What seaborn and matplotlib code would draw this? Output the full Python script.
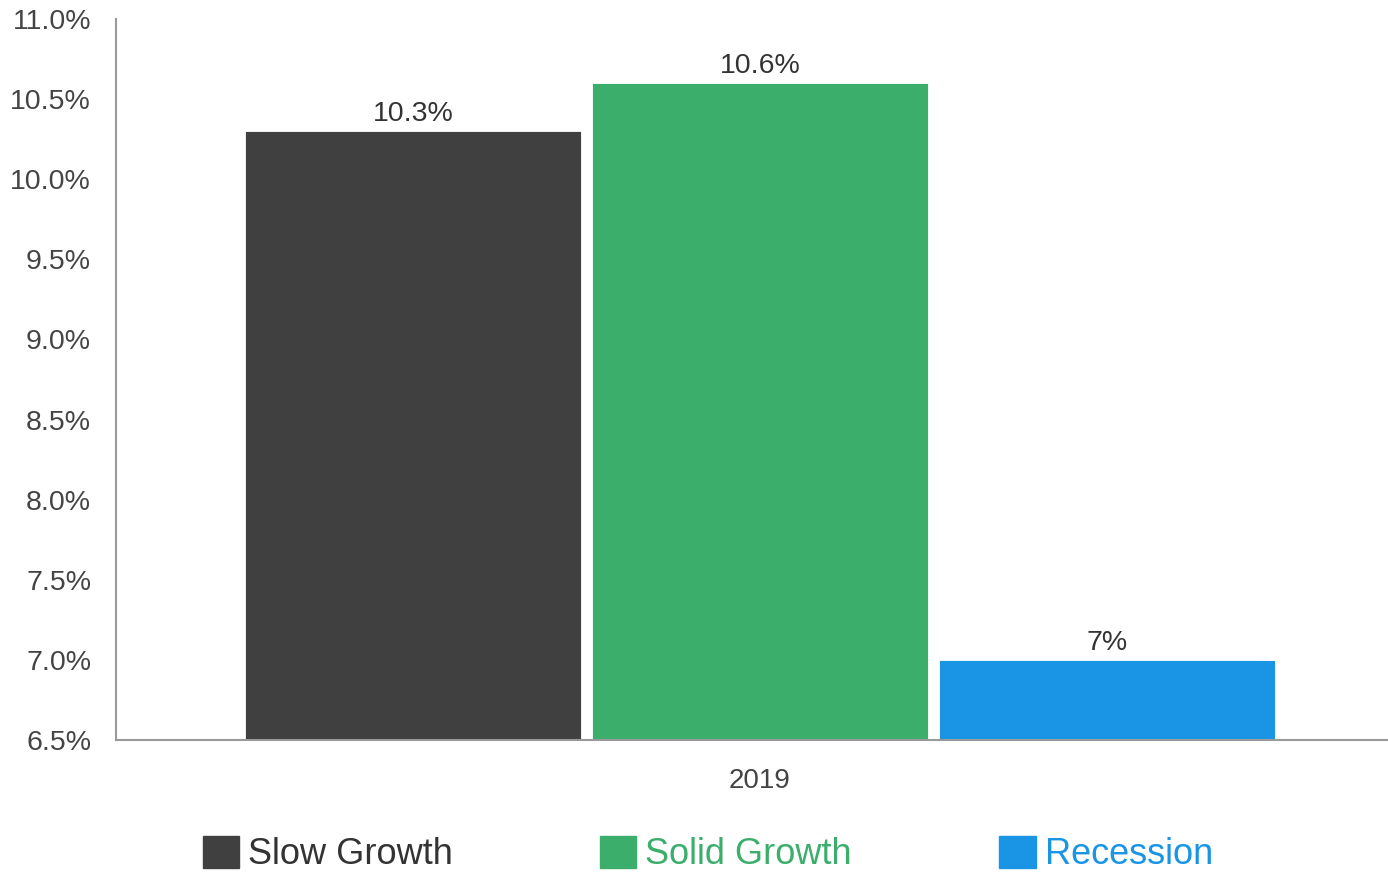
import matplotlib
matplotlib.use("Agg")
import matplotlib.pyplot as plt
import seaborn as sns
import pandas as pd
from matplotlib.ticker import FuncFormatter

years = ["2019"]
scenarios = ["Slow Growth", "Solid Growth", "Recession"]
returns = [10.3, 10.6, 7.0]
value_labels = ["10.3%", "10.6%", "7%"]
colors = ["#404040", "#3cae6b", "#1a95e6"]
legend_text_colors = ["#333333", "#3cae6b", "#1a95e6"]
y_ticks = [6.5, 7.0, 7.5, 8.0, 8.5, 9.0, 9.5, 10.0, 10.5, 11.0]

df = pd.DataFrame({
    "year": years * len(scenarios),
    "scenario": scenarios,
    "value": returns,
})

sns.set_theme(style="white")
plt.rcParams["font.family"] = ["Liberation Sans", "DejaVu Sans"]

fig = plt.figure(figsize=(13.88, 8.75), dpi=100)
ax = fig.add_axes([116 / 1388, 1 - 740 / 875, 1 - 116 / 1388, (740 - 19) / 875])

sns.barplot(data=df, x="year", y="value", hue="scenario", hue_order=scenarios,
            palette=colors, saturation=1, width=0.818, gap=0.03, ax=ax,
            edgecolor="white", linewidth=0.6, errorbar=None)

ax.set_xlim(-0.5 - 0.0063, 0.5 - 0.0063)
ax.set_ylim(6.5, 11.0)
ax.set_yticks(y_ticks)
ax.yaxis.set_major_formatter(FuncFormatter(lambda v, _: f"{v:.1f}%"))
ax.tick_params(axis="y", length=0, pad=18, labelsize=20.5, labelcolor="#444444")
ax.tick_params(axis="x", length=0, pad=20, labelsize=20, labelcolor="#444444")
ax.set_xlabel("")
ax.set_ylabel("")

for side in ["top", "right"]:
    ax.spines[side].set_visible(False)
for side in ["left", "bottom"]:
    ax.spines[side].set_color("#9a9a9a")
    ax.spines[side].set_linewidth(1.5)

for container, label in zip(ax.containers, value_labels):
    ax.bar_label(container, labels=[label], padding=3, fontsize=20.5, color="#333333")

ax.get_legend().remove()
handles = [plt.Rectangle((0, 0), 1, 1, color=c) for c in colors]
leg = fig.legend(handles, scenarios, loc="center", bbox_to_anchor=(0.510, 1 - 854 / 875),
                 ncol=3, frameon=False, fontsize=26, handlelength=1.0, handleheight=1.0,
                 handletextpad=0.25, columnspacing=4.08)
for text, c in zip(leg.get_texts(), legend_text_colors):
    text.set_color(c)

fig.savefig("out.png", dpi=100, facecolor="white")
